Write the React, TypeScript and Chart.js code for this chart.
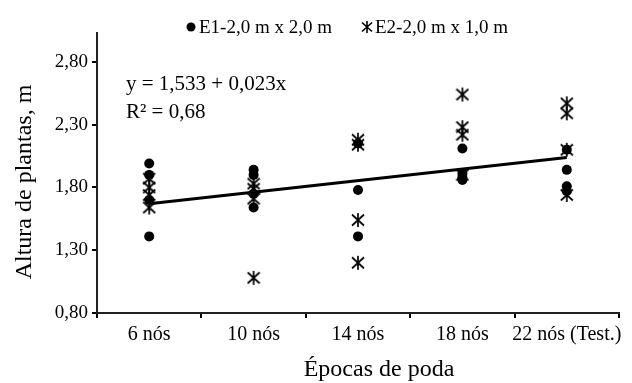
import React, { useEffect, useRef } from "react";
import { Chart, registerables } from "chart.js";

Chart.register(...registerables);

const categories = ["6 nós", "10 nós", "14 nós", "18 nós", "22 nós (Test.)"];
const nodes = [6, 10, 14, 18, 22];
const e1Values: number[][] = [
  [1.99, 1.9, 1.7, 1.41],
  [1.94, 1.9, 1.75, 1.64],
  [2.15, 1.78, 1.41],
  [2.11, 1.91, 1.88, 1.86],
  [2.1, 1.94, 1.81, 1.77],
];
const e2Values: number[][] = [
  [1.87, 1.8, 1.74, 1.64],
  [1.83, 1.79, 1.71, 1.08],
  [2.18, 2.14, 1.54, 1.2],
  [2.54, 2.28, 2.22, 1.9],
  [2.47, 2.39, 2.1, 1.74],
];
const yTicks = [0.8, 1.3, 1.8, 2.3, 2.8];
const intercept = 1.533;
const slope = 0.023;
const r2 = 0.68;
const seriesNames = ["E1-2,0 m x 2,0 m", "E2-2,0 m x 1,0 m"];
const yTitle = "Altura de plantas, m";
const xTitle = "Épocas de poda";

const FONT = '"Liberation Serif", "Times New Roman", serif';

function fmt(v: number, d: number) {
  return v.toFixed(d).replace(".", ",");
}

function makeAsterisk(w: number, h: number, lw: number) {
  const c = document.createElement("canvas");
  c.width = w + 2;
  c.height = h + 2;
  const ctx = c.getContext("2d")!;
  ctx.strokeStyle = "#000";
  ctx.lineWidth = lw;
  ctx.lineCap = "butt";
  const cx = c.width / 2;
  ctx.beginPath();
  ctx.moveTo(cx, 1);
  ctx.lineTo(cx, h + 1);
  ctx.moveTo(1, 2.5);
  ctx.lineTo(w + 1, h - 0.5);
  ctx.moveTo(w + 1, 2.5);
  ctx.lineTo(1, h - 0.5);
  ctx.stroke();
  return c;
}

export default function App() {
  const ref = useRef<HTMLCanvasElement>(null);
  useEffect(() => {
    const star = makeAsterisk(12, 14, 1.7);
    const legendStar = makeAsterisk(10, 12, 1.6);
    const toPts = (arr: number[][]) =>
      arr.flatMap((vals, i) => vals.map((v) => ({ x: categories[i] as any, y: v })));
    const trend = [0, nodes.length - 1].map((i) => ({
      x: categories[i] as any,
      y: intercept + slope * nodes[i],
    }));

    const overlay = {
      id: "overlay",
      afterDraw(chart: any) {
        const ctx = chart.ctx;
        ctx.save();
        ctx.fillStyle = "#000";
        // legend
        ctx.font = `19px ${FONT}`;
        ctx.textBaseline = "alphabetic";
        ctx.textAlign = "left";
        ctx.beginPath();
        ctx.arc(191, 27, 4.5, 0, Math.PI * 2);
        ctx.fill();
        ctx.fillText(seriesNames[0], 199, 33);
        ctx.drawImage(legendStar, 367 - legendStar.width / 2, 27 - legendStar.height / 2);
        ctx.fillText(seriesNames[1], 375, 33);
        // equation
        ctx.font = `21px ${FONT}`;
        ctx.fillText(`y = ${fmt(intercept, 3)} + ${fmt(slope, 3)}x`, 126, 89.5);
        ctx.fillText(`R² = ${fmt(r2, 2)}`, 126, 118);
        // axis titles
        ctx.font = `24px ${FONT}`;
        ctx.textAlign = "center";
        ctx.textBaseline = "middle";
        ctx.fillText(xTitle, 379, 370);
        ctx.translate(25, 182);
        ctx.rotate(-Math.PI / 2);
        ctx.fillText(yTitle, 0, 0);
        ctx.restore();
      },
    };

    const chart = new Chart(ref.current!, {
      type: "scatter",
      data: {
        datasets: [
          {
            label: seriesNames[0],
            data: toPts(e1Values),
            pointStyle: "circle",
            pointRadius: 5,
            backgroundColor: "#000",
            borderColor: "#000",
            borderWidth: 0,
          },
          {
            label: seriesNames[1],
            data: toPts(e2Values),
            pointStyle: star as any,
            pointRadius: 7,
            backgroundColor: "#000",
            borderColor: "#000",
          },
          {
            type: "line" as any,
            label: "trend",
            data: trend,
            borderColor: "#000",
            borderWidth: 3,
            pointRadius: 0,
            showLine: true,
            fill: false,
          } as any,
        ],
      },
      options: {
        animation: false,
        responsive: false,
        layout: { padding: { top: 33, right: 13, left: 0, bottom: 0 } },
        plugins: { legend: { display: false }, tooltip: { enabled: false } },
        scales: {
          x: {
            type: "category",
            labels: categories,
            offset: true,
            grid: {
              display: true,
              drawOnChartArea: false,
              drawTicks: true,
              tickLength: 5,
              color: "#000",
              lineWidth: 2,
              offset: true,
            },
            border: { display: true, color: "#222", width: 2 },
            ticks: {
              color: "#000",
              font: { family: FONT, size: 20 },
              padding: 5,
              maxRotation: 0,
              autoSkip: false,
            },
            afterFit: (s: any) => {
              s.height = 70;
            },
          } as any,
          y: {
            type: "linear",
            min: 0.8,
            max: 3.03,
            afterBuildTicks: (s: any) => {
              s.ticks = yTicks.map((v) => ({ value: v }));
            },
            grid: {
              display: true,
              drawOnChartArea: false,
              drawTicks: true,
              tickLength: 5,
              color: "#000",
              lineWidth: 2,
            },
            border: { display: true, color: "#222", width: 2 },
            ticks: {
              color: "#000",
              font: { family: FONT, size: 19 },
              padding: 4,
              callback: (v: any) => fmt(Number(v), 2),
            },
            afterFit: (s: any) => {
              s.width = 97;
            },
          } as any,
        },
      },
      plugins: [overlay],
    });
    return () => chart.destroy();
  }, []);

  return (
    <div style={{ position: "absolute", left: 0, top: 0, width: 632, height: 383, background: "#fff" }}>
      <canvas ref={ref} width={632} height={383} />
    </div>
  );
}
